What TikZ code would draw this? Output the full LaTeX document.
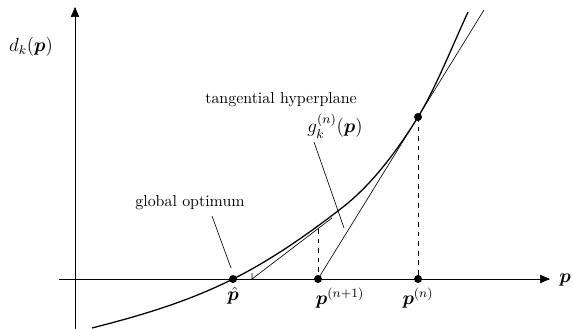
\documentclass[tikz,border=0pt]{standalone}
\usepackage{amsmath}
\usepackage{bm}
\usetikzlibrary{arrows}
\def\bfp{\bm{p}}
\begin{document}
\begin{tikzpicture}[x=0.628pt,y=-0.628pt]
\useasboundingbox (0,0) rectangle (573,329);
\tikzset{dot/.style={circle,fill,inner sep=0pt,minimum size=5pt},
  lab/.style={font=\large,inner sep=1pt}}
% axes
\draw[-triangle 45] (75,329) -- (75,7);
\draw[-triangle 45] (59,279) -- (550,279);
\draw(565,280) node[lab] (px) {$\bfp$};
\draw(31,47) node[lab] (dk) {$d_k(\bfp)$};
% cost function
\draw[thick] (92,328) .. controls (139,316) and (186,302.5) .. (233,279)
  .. controls (269.7,260.7) and (306.3,235.6) .. (343,207)
  .. controls (368,187.5) and (393,157.5) .. (418,117)
  .. controls (434.7,90) and (451.3,48.4) .. (468,12);
% tangents
\draw(484,10) -- (318,279);
\draw(252,273) -- (252,279) -- (332,218);
\draw[dashed](318,229) -- (318,279);
\draw[dashed](418,117) -- (418,279);
% points
\draw(233,279) node[dot] (ph) {};
\draw(318,279) node[dot] (pn1) {};
\draw(418,279) node[dot] (pn) {};
\draw(418,117) node[dot] (gn) {};
\draw(233,285) node[lab,anchor=north] (lph) {$\hat{\bfp}$};
\draw(340,298) node[lab] (lpn1) {$\bfp^{(n+1)}$};
\draw(418,298) node[lab] (lpn) {$\bfp^{(n)}$};
% labels
\draw(190,203) node (opt) {global optimum};
\draw(212,216) -- (231,268);
\draw(281,100) node (tan) {tangential hyperplane};
\draw(335,126) node[lab] (gk) {$g_k^{(n)}(\bfp)$};
\draw(314,142) -- (344,228);
\end{tikzpicture}
\end{document}
